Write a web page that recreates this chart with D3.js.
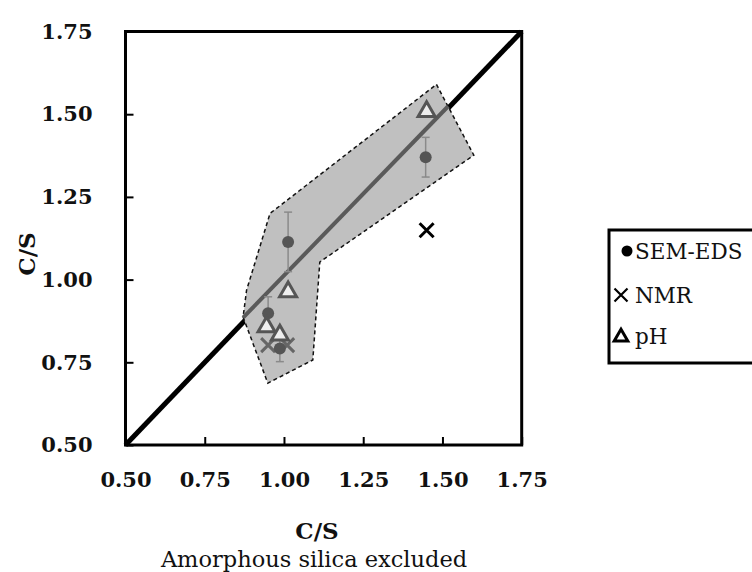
<!DOCTYPE html>
<html><head><meta charset="utf-8">
<script src="https://cdn.jsdelivr.net/npm/d3@7"></script>
<style>body{margin:0;background:#fff}svg{display:block}</style>
</head><body>
<script>
const ticks = [0.50, 0.75, 1.00, 1.25, 1.50, 1.75];
const tickLabels = ["0.50","0.75","1.00","1.25","1.50","1.75"];
const semX = [1.447, 1.013, 0.950, 0.987];
const semY = [1.370, 1.114, 0.898, 0.792];
const semErr = [0.060, 0.090, 0.050, 0.040];
const nmrX = [1.450, 0.950, 1.010];
const nmrY = [1.149, 0.802, 0.802];
const phX = [1.450, 1.013, 0.945, 0.987];
const phY = [1.508, 0.963, 0.857, 0.832];
const regionX = [1.481, 1.599, 1.113, 1.091, 0.949, 0.871, 0.882, 0.956];
const regionY = [1.590, 1.376, 1.053, 0.757, 0.687, 0.887, 0.968, 1.200];
const fitX = [0.871, 1.518];
const fitY = [0.885, 1.524];
const legendLabels = ["SEM-EDS", "NMR", "pH"];

const W = 752, H = 572;
const svg = d3.select("body").append("svg").attr("width", W).attr("height", H);
const x = d3.scaleLinear().domain([0.5, 1.75]).range([125.5, 521.7]);
const y = d3.scaleLinear().domain([0.5, 1.75]).range([445, 31.5]);
const font = "'DejaVu Serif', serif";

// diagonal
svg.append("line").attr("x1", x(0.5)).attr("y1", y(0.5)).attr("x2", x(1.75)).attr("y2", y(1.75))
  .attr("stroke", "#000").attr("stroke-width", 5);

// region
const poly = regionX.map((v, i) => [x(v), y(regionY[i])]);
svg.append("path").attr("d", d3.line()(poly) + "Z")
  .attr("fill", "#c0c0c0").attr("stroke", "#111").attr("stroke-width", 1.5).attr("stroke-dasharray", "4,3");

// fit line
svg.append("line").attr("x1", x(fitX[0])).attr("y1", y(fitY[0])).attr("x2", x(fitX[1])).attr("y2", y(fitY[1]))
  .attr("stroke", "#5a5a5a").attr("stroke-width", 4);

// error bars
const eb = svg.append("g").attr("stroke", "#8a8a8a").attr("stroke-width", 1.5);
semX.forEach((v, i) => {
  const cx = x(v), y1 = y(semY[i] + semErr[i]), y2 = y(semY[i] - semErr[i]);
  eb.append("line").attr("x1", cx).attr("x2", cx).attr("y1", y1).attr("y2", y2);
  eb.append("line").attr("x1", cx - 4).attr("x2", cx + 4).attr("y1", y1).attr("y2", y1);
  eb.append("line").attr("x1", cx - 4).attr("x2", cx + 4).attr("y1", y2).attr("y2", y2);
});

// NMR crosses
function cross(g, cx, cy, s, col, w) {
  g.append("path").attr("d", `M${cx-s},${cy-s}L${cx+s},${cy+s}M${cx-s},${cy+s}L${cx+s},${cy-s}`)
    .attr("stroke", col).attr("stroke-width", w).attr("fill", "none");
}
nmrX.forEach((v, i) => cross(svg, x(v), y(nmrY[i]), 7, i === 0 ? "#000" : "#666", 3));

// SEM circles
svg.selectAll("circle.sem").data(semX).join("circle").attr("class", "sem")
  .attr("cx", d => x(d)).attr("cy", (d, i) => y(semY[i])).attr("r", 6).attr("fill", "#555");

// pH triangles
const tri = d3.symbol().type(d3.symbolTriangle).size(125);
phX.forEach((v, i) => {
  svg.append("path").attr("d", tri()).attr("transform", `translate(${x(v)},${y(phY[i])})`)
    .attr("fill", "#eee").attr("stroke", "#555").attr("stroke-width", 3).attr("stroke-linejoin", "miter");
});

// frame
svg.append("rect").attr("x", x(0.5)).attr("y", y(1.75)).attr("width", x(1.75) - x(0.5)).attr("height", y(0.5) - y(1.75))
  .attr("fill", "none").attr("stroke", "#000").attr("stroke-width", 3);

// axes (inward ticks)
const xAxis = d3.axisBottom(x).tickValues(ticks).tickFormat((d, i) => tickLabels[i]).tickSizeInner(-8).tickSizeOuter(0).tickPadding(27);
const gx = svg.append("g").attr("transform", `translate(0,${y(0.5)})`).call(xAxis);
const yAxis = d3.axisLeft(y).tickValues(ticks).tickFormat((d, i) => tickLabels[i]).tickSizeInner(-8).tickSizeOuter(0).tickPadding(33);
const gy = svg.append("g").attr("transform", `translate(${x(0.5)},0)`).call(yAxis);
[gx, gy].forEach(g => {
  g.select(".domain").remove();
  g.selectAll(".tick line").attr("stroke", "#000").attr("stroke-width", 2);
  g.selectAll(".tick text").attr("font-family", font).attr("font-size", 21).attr("font-weight", "bold").attr("fill", "#111");
});

// axis titles
svg.append("text").attr("transform", "translate(35,254) rotate(-90)").attr("text-anchor", "middle")
  .attr("font-family", font).attr("font-size", 23).attr("font-weight", "bold").attr("fill", "#111").text("C/S");
svg.append("text").attr("x", 317).attr("y", 539).attr("text-anchor", "middle")
  .attr("font-family", font).attr("font-size", 23).attr("font-weight", "bold").attr("fill", "#111").text("C/S");
svg.append("text").attr("x", 314).attr("y", 567).attr("text-anchor", "middle")
  .attr("font-family", font).attr("font-size", 22.5).attr("fill", "#111").text("Amorphous silica excluded");

// legend
const lg = svg.append("g");
lg.append("rect").attr("x", 609).attr("y", 230).attr("width", 160).attr("height", 133)
  .attr("fill", "#fff").attr("stroke", "#000").attr("stroke-width", 3);
const ly = [251, 295, 336];
lg.append("circle").attr("cx", 627).attr("cy", ly[0]).attr("r", 5.5).attr("fill", "#000");
cross(lg, 621, ly[1], 6.5, "#000", 2.2);
lg.append("path").attr("d", d3.symbol().type(d3.symbolTriangle).size(80)()).attr("transform", `translate(621,${ly[2]+1})`)
  .attr("fill", "#fff").attr("stroke", "#000").attr("stroke-width", 3);
legendLabels.forEach((t, i) => {
  lg.append("text").attr("x", 635).attr("y", ly[i]).attr("dy", "0.36em")
    .attr("font-family", font).attr("font-size", 21.5).attr("fill", "#111").text(t);
});
</script>
</body></html>
